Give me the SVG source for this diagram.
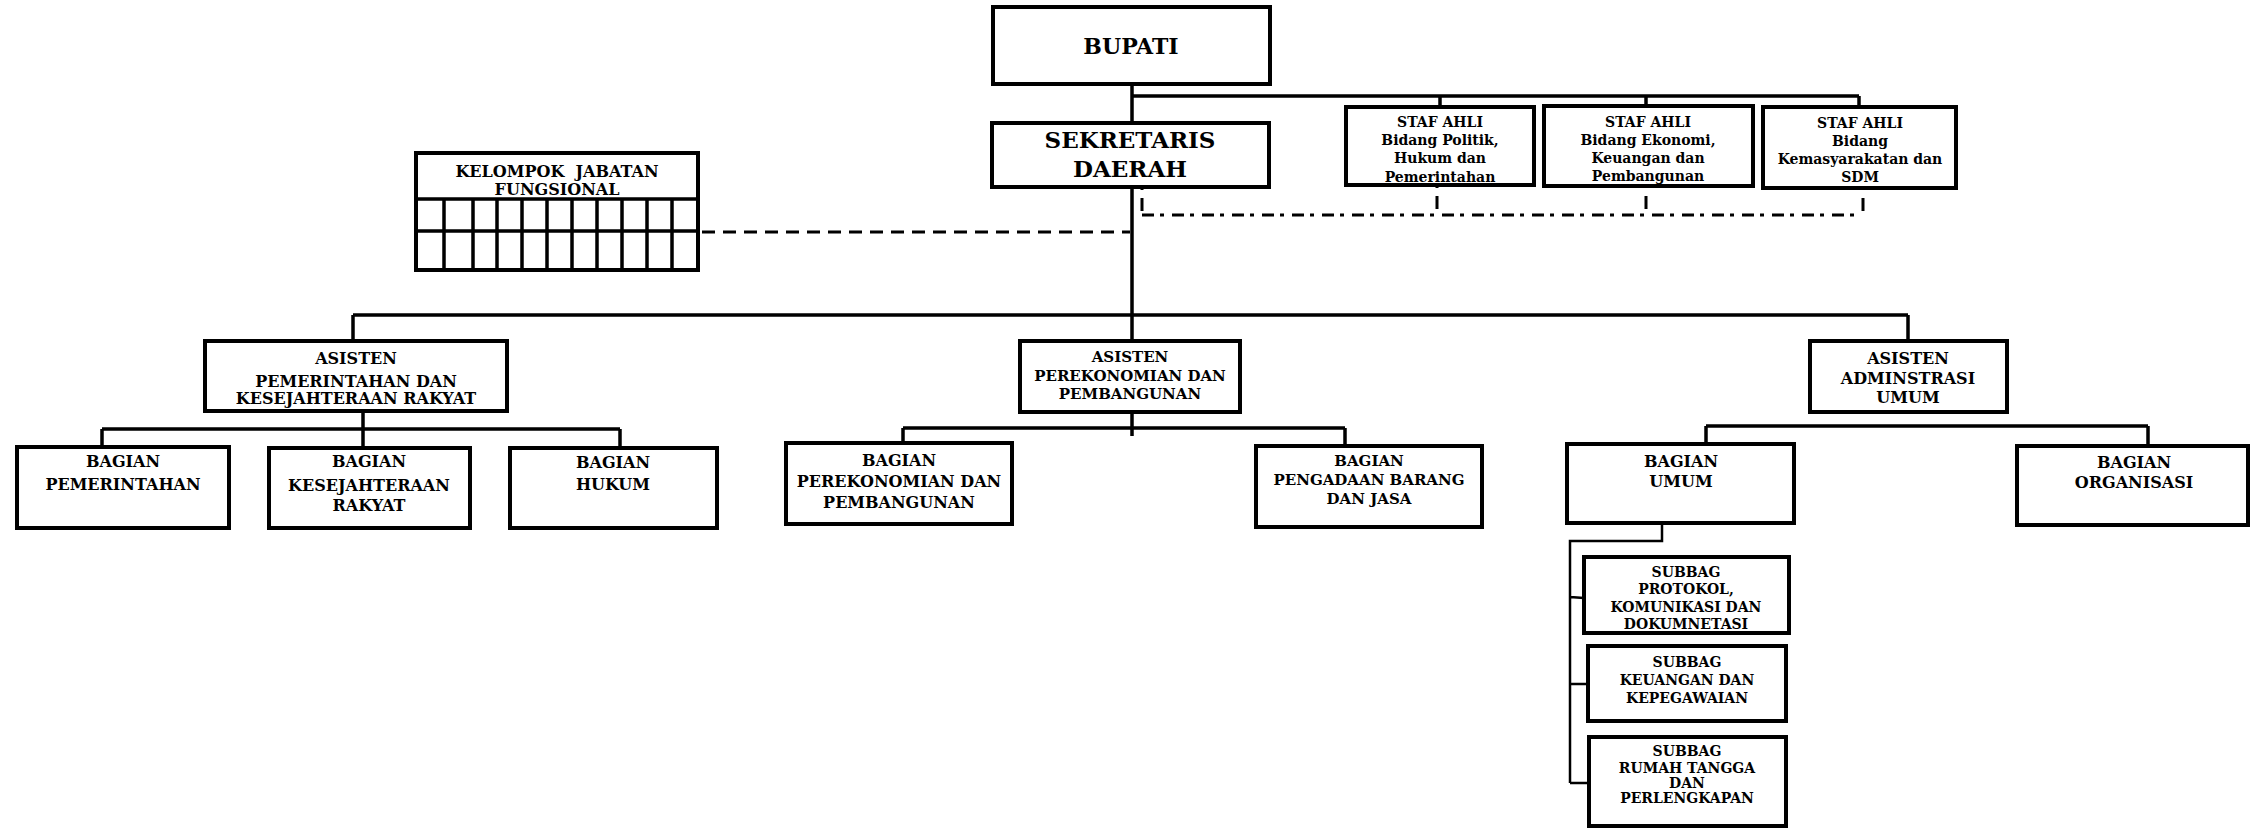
<svg xmlns="http://www.w3.org/2000/svg" width="2250" height="828" viewBox="0 0 2250 828">
<style>
.box{fill:#fff;stroke:#000;stroke-width:4}
.ln{fill:none;stroke:#000;stroke-width:3.5}
.thin{fill:none;stroke:#000;stroke-width:2.5}
.dash{fill:none;stroke:#000;stroke-width:3;stroke-dasharray:13 8}
.dd{fill:none;stroke:#000;stroke-width:3;stroke-dasharray:12 6 4 8}
.vd{fill:none;stroke:#000;stroke-width:3;stroke-dasharray:2 8 13 30}
.t{font-family:"DejaVu Serif",serif;font-weight:bold;text-anchor:middle;fill:#000}
.s14{font-size:14px}.s15{font-size:15px}.s16{font-size:16px}.s22{font-size:22px}.s23{font-size:23px}
</style>
<rect width="2250" height="828" fill="#fff"/>
<g id="connectors">
<path class="ln" d="M1132 84V123M1132 96H1859M1440 96V107M1646 96V106M1859 96V108"/>
<path class="ln" d="M1132 187V341M353 315H1908M353 315V341M1908 315V341"/>
<path class="ln" d="M1132 412V436M903 428H1345M903 428V443M1345 428V446"/>
<path class="ln" d="M363 411V448M102 429H620M102 429V447M620 429V448"/>
<path class="ln" d="M1706 426H2148M1706 426V444M2148 426V446"/>
<path class="thin" d="M1662 523V541H1570V783M1570 597L1584 598M1570 684H1588M1570 783H1589"/>
<path class="dash" d="M702 232H1130"/>
<path class="dd" d="M1142 215H1860"/>
<path class="vd" d="M1142 188V214M1437 186V214M1646 186V214M1863 188V214"/>
</g>
<g id="bupati"><rect class="box" x="993" y="7" width="277" height="77"/><text class="t s22" x="1131" y="54">BUPATI</text></g>
<g id="sekda"><rect class="box" x="992" y="123" width="277" height="64"/><text class="t s23" x="1130" y="148">SEKRETARIS</text><text class="t s23" x="1130" y="177">DAERAH</text></g>
<g id="staf1"><rect class="box" x="1346" y="107" width="188" height="78"/><text class="t s14" x="1440" y="127">STAF AHLI</text><text class="t s14" x="1440" y="145">Bidang Politik,</text><text class="t s14" x="1440" y="163">Hukum dan</text><text class="t s14" x="1440" y="182">Pemerintahan</text></g>
<g id="staf2"><rect class="box" x="1544" y="106" width="209" height="80"/><text class="t s14" x="1648" y="127">STAF AHLI</text><text class="t s14" x="1648" y="145">Bidang Ekonomi,</text><text class="t s14" x="1648" y="163">Keuangan dan</text><text class="t s14" x="1648" y="181">Pembangunan</text></g>
<g id="staf3"><rect class="box" x="1763" y="107" width="193" height="81"/><text class="t s14" x="1860" y="128">STAF AHLI</text><text class="t s14" x="1860" y="146">Bidang</text><text class="t s14" x="1860" y="164">Kemasyarakatan dan</text><text class="t s14" x="1860" y="182">SDM</text></g>
<g id="kelompok"><rect class="box" x="416" y="153" width="282" height="117"/>
<path class="ln" d="M414 199H698M414 231H698M444 199V270M473 199V270M497 199V270M522 199V270M547 199V270M572 199V270M597 199V270M622 199V270M647 199V270M672 199V270"/>
<text class="t s16" x="557" y="177" xml:space="preserve" style="white-space:pre">KELOMPOK  JABATAN</text><text class="t s16" x="557" y="195">FUNGSIONAL</text></g>
<g id="asisten1"><rect class="box" x="205" y="341" width="302" height="70"/><text class="t s16" x="356" y="364">ASISTEN</text><text class="t s16" x="356" y="387">PEMERINTAHAN DAN</text><text class="t s16" x="356" y="404">KESEJAHTERAAN RAKYAT</text></g>
<g id="asisten2"><rect class="box" x="1020" y="341" width="220" height="71"/><text class="t s15" x="1130" y="362">ASISTEN</text><text class="t s15" x="1130" y="381">PEREKONOMIAN DAN</text><text class="t s15" x="1130" y="399">PEMBANGUNAN</text></g>
<g id="asisten3"><rect class="box" x="1810" y="341" width="197" height="71"/><text class="t s16" x="1908" y="364">ASISTEN</text><text class="t s16" x="1908" y="384">ADMINSTRASI</text><text class="t s16" x="1908" y="403">UMUM</text></g>
<g id="bag-pemerintahan"><rect class="box" x="17" y="447" width="212" height="81"/><text class="t s16" x="123" y="467">BAGIAN</text><text class="t s16" x="123" y="490">PEMERINTAHAN</text></g>
<g id="bag-kesra"><rect class="box" x="269" y="448" width="201" height="80"/><text class="t s16" x="369" y="467">BAGIAN</text><text class="t s16" x="369" y="491">KESEJAHTERAAN</text><text class="t s16" x="369" y="511">RAKYAT</text></g>
<g id="bag-hukum"><rect class="box" x="510" y="448" width="207" height="80"/><text class="t s16" x="613" y="468">BAGIAN</text><text class="t s16" x="613" y="490">HUKUM</text></g>
<g id="bag-perekonomian"><rect class="box" x="786" y="443" width="226" height="81"/><text class="t s16" x="899" y="466">BAGIAN</text><text class="t s16" x="899" y="487">PEREKONOMIAN DAN</text><text class="t s16" x="899" y="508">PEMBANGUNAN</text></g>
<g id="bag-pengadaan"><rect class="box" x="1256" y="446" width="226" height="81"/><text class="t s15" x="1369" y="466">BAGIAN</text><text class="t s15" x="1369" y="485">PENGADAAN BARANG</text><text class="t s15" x="1369" y="504">DAN JASA</text></g>
<g id="bag-umum"><rect class="box" x="1567" y="444" width="227" height="79"/><text class="t s16" x="1681" y="467">BAGIAN</text><text class="t s16" x="1681" y="487">UMUM</text></g>
<g id="bag-organisasi"><rect class="box" x="2017" y="446" width="231" height="79"/><text class="t s16" x="2134" y="468">BAGIAN</text><text class="t s16" x="2134" y="488">ORGANISASI</text></g>
<g id="subbag-protokol"><rect class="box" x="1584" y="557" width="205" height="76"/><text class="t s14" x="1686" y="577">SUBBAG</text><text class="t s14" x="1686" y="594">PROTOKOL,</text><text class="t s14" x="1686" y="612">KOMUNIKASI DAN</text><text class="t s14" x="1686" y="629">DOKUMNETASI</text></g>
<g id="subbag-keuangan"><rect class="box" x="1588" y="646" width="198" height="75"/><text class="t s14" x="1687" y="667">SUBBAG</text><text class="t s14" x="1687" y="685">KEUANGAN DAN</text><text class="t s14" x="1687" y="703">KEPEGAWAIAN</text></g>
<g id="subbag-rt"><rect class="box" x="1589" y="737" width="197" height="89"/><text class="t s14" x="1687" y="756">SUBBAG</text><text class="t s14" x="1687" y="773">RUMAH TANGGA</text><text class="t s14" x="1687" y="788">DAN</text><text class="t s14" x="1687" y="803">PERLENGKAPAN</text></g>
</svg>
